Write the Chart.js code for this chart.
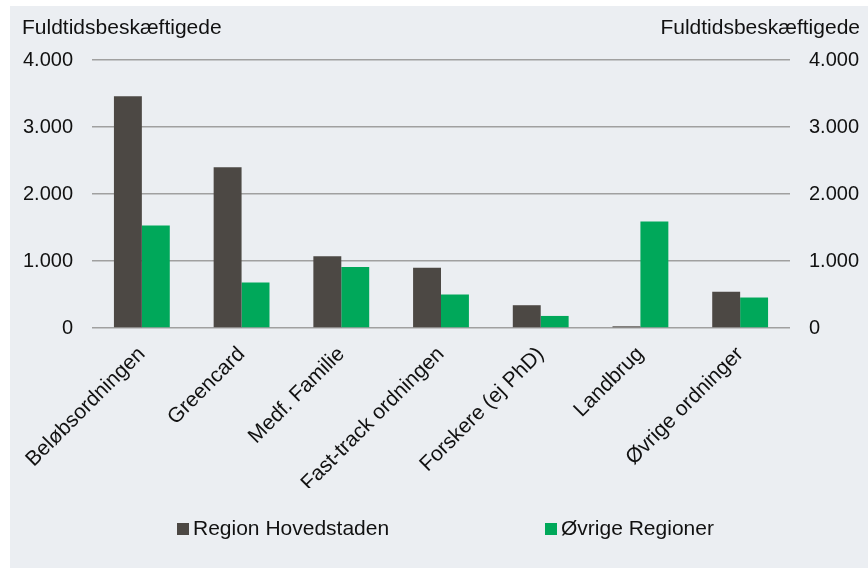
<!DOCTYPE html>
<html>
<head>
<meta charset="utf-8">
<script src="https://cdn.jsdelivr.net/npm/chart.js@4/dist/chart.umd.min.js"></script>
<style>
  html, body { margin: 0; padding: 0; background: #fff; }
  #panel { position: absolute; left: 10px; top: 6px; width: 858px; height: 562px; background: #ebeef2; }
</style>
</head>
<body>
<div id="panel"><canvas id="chart" width="858" height="562"></canvas></div>
<script>
// data
const categories  = ['Beløbsordningen', 'Greencard', 'Medf. Familie', 'Fast-track ordningen', 'Forskere (ej PhD)', 'Landbrug', 'Øvrige ordninger'];
const hovedstaden = [3460, 2400, 1070, 900, 340, 25, 540];
const oevrige     = [1530, 680, 910, 500, 180, 1590, 455];
const seriesNames = ['Region Hovedstaden', 'Øvrige Regioner'];
const yTicks      = [0, 1000, 2000, 3000, 4000];
const axisTitle   = 'Fuldtidsbeskæftigede';

const FONT = '"Liberation Sans", Arial, sans-serif';
const DARK = '#4c4844';
const GREEN = '#00a85a';

const fmt = v => String(v).replace(/\B(?=(\d{3})+(?!\d))/g, '.');

// axis titles + legend drawn on canvas
const extras = {
  id: 'extras',
  afterDraw(chart) {
    const ctx = chart.ctx;
    ctx.save();
    ctx.font = '21px ' + FONT;
    ctx.fillStyle = '#111';
    ctx.textBaseline = 'middle';
    ctx.textAlign = 'left';
    ctx.fillText(axisTitle, 12, 22);
    ctx.textAlign = 'right';
    ctx.fillText(axisTitle, 850, 22);

    // legend
    const spots = [167, 535];
    chart.data.datasets.forEach((ds, i) => {
      ctx.fillStyle = ds.backgroundColor;
      ctx.fillRect(spots[i], 517, 12, 12);
      ctx.fillStyle = '#111';
      ctx.textAlign = 'left';
      ctx.fillText(ds.label, spots[i] + 16, 523);
    });
    ctx.restore();
  }
};

new Chart(document.getElementById('chart'), {
  type: 'bar',
  data: {
    labels: categories,
    datasets: [
      { label: seriesNames[0], data: hovedstaden, backgroundColor: DARK, borderWidth: 0 },
      { label: seriesNames[1], data: oevrige,     backgroundColor: GREEN, borderWidth: 0 },
    ],
  },
  options: {
    responsive: false,
    animation: false,
    categoryPercentage: 0.56,
    barPercentage: 1.0,
    layout: { padding: { left: 12, right: 8, top: 54, bottom: 80 } },
    plugins: { legend: { display: false }, tooltip: { enabled: false } },
    scales: {
      x: {
        grid: { display: false },
        border: { display: false },
        ticks: { color: '#111', font: { family: FONT, size: 21 }, maxRotation: 45, minRotation: 45, padding: 6 },
        afterFit: s => { s.height = 160; },
      },
      y: {
        min: 0, max: 4000,
        afterBuildTicks: s => { s.ticks = yTicks.map(v => ({ value: v })); },
        grid: { color: '#a0a0a0', lineWidth: 1.5, drawTicks: false },
        border: { display: false },
        ticks: { color: '#111', font: { family: FONT, size: 20 }, padding: 19, callback: v => fmt(v) },
        afterFit: s => { s.width = 70; },
      },
      y2: {
        position: 'right',
        min: 0, max: 4000,
        afterBuildTicks: s => { s.ticks = yTicks.map(v => ({ value: v })); },
        grid: { display: false, drawTicks: false },
        border: { display: false },
        ticks: { color: '#111', font: { family: FONT, size: 20 }, padding: 19, callback: v => fmt(v) },
        afterFit: s => { s.width = 70; },
      },
    },
  },
  plugins: [extras],
});
</script>
</body>
</html>
